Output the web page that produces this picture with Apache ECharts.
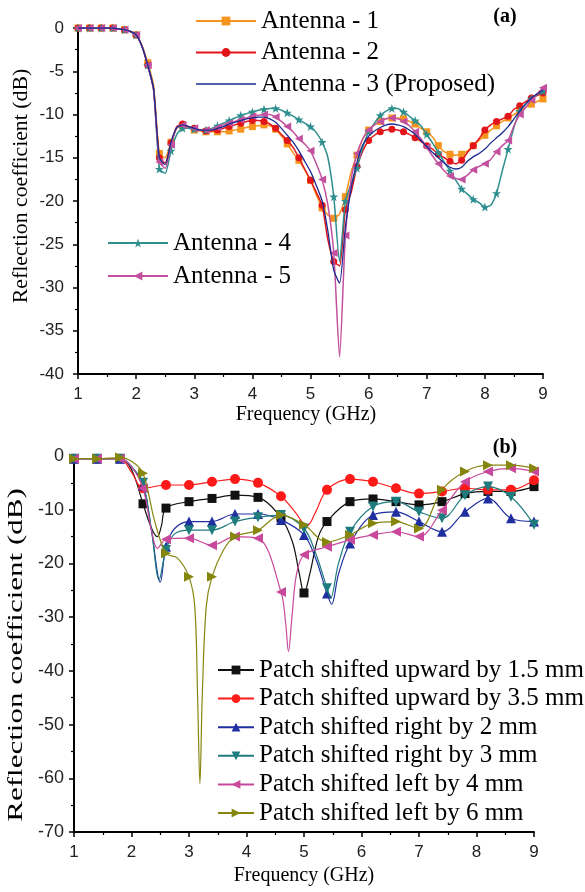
<!DOCTYPE html>
<html>
<head>
<meta charset="utf-8">
<script src="https://cdn.jsdelivr.net/npm/echarts@6/dist/echarts.min.js"></script>
<style>
  html, body { margin: 0; padding: 0; background: #fff; }
  #chart { width: 585px; height: 892px; }
</style>
</head>
<body>
<div id="chart"></div>
<script>
// ---------- Panel (a) data ----------
const freqA = [];
for (let i = 0; i <= 80; i++) freqA.push(+(1 + i * 0.1).toFixed(1));

const antennaNames = ['Antenna - 1', 'Antenna - 2', 'Antenna - 3 (Proposed)', 'Antenna - 4', 'Antenna - 5'];

const antenna1 = [
  0, 0, 0, 0, 0, 0, 0, -0.1, -0.2, -0.4,
  -0.8, -2.0, -4.0, -6.6, -14.5, -15.0, -13.2, -11.6, -11.3, -11.5,
  -11.8, -11.9, -12.0, -12.0, -12.0, -12.0, -11.9, -11.8, -11.7, -11.5,
  -11.4, -11.3, -11.2, -11.3, -11.7, -12.5, -13.4, -14.4, -15.3, -16.4,
  -17.6, -19.3, -20.8, -21.6, -22.0, -21.5, -19.5, -16.6, -14.7, -12.8,
  -11.8, -11.2, -10.8, -10.5, -10.4, -10.4, -10.5, -10.8, -11.1, -11.6,
  -12.0, -12.6, -13.6, -14.3, -14.6, -14.7, -14.6, -14.2, -13.6, -13.0,
  -12.4, -11.8, -11.3, -10.8, -10.4, -10.0, -9.6, -9.2, -8.8, -8.5, -8.2
];
const antenna2 = [
  0, 0, 0, 0, 0, 0, 0, -0.1, -0.2, -0.4,
  -0.8, -2.1, -4.3, -7.0, -15.0, -15.6, -13.3, -11.4, -11.1, -11.4,
  -11.6, -11.8, -11.9, -11.9, -11.8, -11.6, -11.4, -11.2, -11.0, -10.8,
  -10.7, -10.7, -10.8, -11.1, -11.6, -12.3, -13.0, -13.8, -15.0, -16.3,
  -17.6, -19.0, -20.5, -24.5, -27.0, -27.5, -21.0, -19.0, -16.0, -14.2,
  -13.0, -12.4, -12.0, -11.8, -11.7, -11.8, -12.0, -12.3, -12.7, -13.1,
  -13.6, -14.0, -14.6, -15.0, -15.4, -15.7, -15.3, -14.4, -13.6, -12.8,
  -11.8, -11.2, -10.8, -10.5, -10.2, -9.4, -9.0, -8.5, -8.1, -7.8, -7.5
];
const antenna3 = [
  0, 0, 0, 0, 0, 0, 0, -0.1, -0.2, -0.4,
  -0.8, -2.1, -4.3, -7.0, -15.0, -15.8, -13.2, -11.5, -11.2, -11.4,
  -11.6, -11.8, -11.8, -11.8, -11.6, -11.4, -11.1, -10.9, -10.7, -10.5,
  -10.4, -10.3, -10.3, -10.5, -10.9, -11.6, -12.4, -13.2, -14.2, -15.4,
  -16.6, -18.2, -20.0, -23.5, -28.0, -29.5, -23.0, -18.5, -15.5, -13.5,
  -12.5, -11.9, -11.5, -11.2, -11.1, -11.2, -11.4, -11.8, -12.3, -13.0,
  -13.7, -14.4, -15.0, -15.6, -16.1, -16.3, -16.1, -15.4, -14.9, -14.5,
  -14.0, -13.3, -12.7, -12.1, -11.4, -10.5, -9.6, -8.8, -8.1, -7.6, -7.2
];
const antenna4 = [
  0, 0, 0, 0, 0, 0, 0, -0.1, -0.2, -0.4,
  -0.8, -2.1, -4.3, -7.0, -16.3, -16.8, -14.2, -12.3, -11.6, -11.6,
  -11.7, -11.8, -11.8, -11.6, -11.3, -11.0, -10.7, -10.4, -10.1, -9.9,
  -9.7, -9.5, -9.4, -9.3, -9.3, -9.5, -9.8, -10.2, -10.6, -11.0,
  -11.4, -12.1, -13.2, -15.0, -19.5, -27.0, -20.0, -18.0, -16.2, -13.8,
  -12.0, -11.0, -10.1, -9.6, -9.3, -9.3, -9.7, -10.2, -10.7, -11.3,
  -12.3, -13.3, -14.4, -15.5, -16.5, -17.6, -18.6, -19.2, -19.8, -20.2,
  -20.7, -20.5, -19.1, -16.5, -14.0, -11.5, -9.6, -8.8, -8.2, -7.7, -7.3
];
const antenna5 = [
  0, 0, 0, 0, 0, 0, 0, -0.1, -0.2, -0.4,
  -0.8, -2.1, -4.3, -7.2, -15.5, -16.2, -13.5, -11.5, -11.2, -11.4,
  -11.6, -11.8, -11.8, -11.7, -11.5, -11.2, -11.0, -10.8, -10.6, -10.4,
  -10.2, -10.1, -10.0, -10.0, -10.3, -10.8, -11.4, -12.0, -12.8, -13.4,
  -14.2, -15.7, -17.5, -20.5, -26.0, -38.0, -24.0, -17.5, -14.5, -12.8,
  -11.8, -11.2, -10.8, -10.5, -10.4, -10.5, -10.8, -11.3, -12.0, -12.8,
  -13.8, -14.8, -15.7, -16.5, -17.1, -17.4, -17.5, -17.0, -16.4, -16.0,
  -15.7, -15.2, -14.3, -13.6, -13.0, -11.3, -10.0, -9.2, -8.3, -7.6, -6.9
];

// ---------- Panel (b) data ----------
const patchNames = [
  'Patch shifted upward by 1.5 mm',
  'Patch shifted upward by 3.5 mm',
  'Patch shifted right by 2 mm',
  'Patch shifted right by 3 mm',
  'Patch shifted left by 4 mm',
  'Patch shifted left by 6 mm'
];
const up15Freq = [1.0, 1.4, 1.8, 2.0, 2.2, 2.35, 2.45, 2.52, 2.6, 3.0, 3.4, 3.8, 4.2, 4.6, 4.8, 4.92, 5.0, 5.1, 5.25, 5.4, 5.8, 6.2, 6.6, 7.0, 7.4, 7.8, 8.2, 8.6, 9.0];
const up15Val  = [-0.5, -0.5, -0.5, -2.5, -8.9, -13.5, -15.0, -13.0, -9.7, -8.5, -7.9, -7.3, -7.7, -11.5, -16.0, -22.0, -25.5, -22.0, -15.0, -12.2, -8.5, -8.0, -8.5, -9.1, -8.5, -7.0, -6.6, -6.6, -5.7];

const up35Freq = [1.0, 1.4, 1.8, 2.0, 2.2, 2.6, 3.0, 3.4, 3.8, 4.2, 4.6, 4.85, 5.05, 5.2, 5.4, 5.8, 6.2, 6.6, 7.0, 7.4, 7.8, 8.2, 8.6, 9.0];
const up35Val  = [-0.5, -0.5, -0.5, -3.0, -6.0, -5.4, -5.4, -4.8, -4.3, -5.0, -7.5, -10.5, -13.0, -10.5, -6.3, -4.3, -4.8, -6.0, -7.0, -6.6, -6.0, -6.3, -6.3, -4.5];

const right2Freq = [1.0, 1.4, 1.8, 2.0, 2.2, 2.35, 2.5, 2.6, 2.75, 3.0, 3.4, 3.8, 4.2, 4.6, 5.0, 5.2, 5.4, 5.48, 5.6, 5.8, 6.2, 6.6, 7.0, 7.4, 7.8, 8.2, 8.6, 9.0];
const right2Val  = [-0.5, -0.5, -0.5, -2.0, -5.5, -14.0, -23.5, -16.9, -13.5, -12.2, -12.2, -10.8, -10.8, -11.9, -14.7, -19.0, -25.6, -27.6, -22.0, -16.3, -11.0, -10.4, -12.2, -14.1, -10.4, -7.9, -11.6, -12.2];

const right3Freq = [1.0, 1.4, 1.8, 2.0, 2.2, 2.35, 2.48, 2.6, 2.75, 3.0, 3.4, 3.8, 4.2, 4.6, 5.0, 5.2, 5.4, 5.46, 5.6, 5.8, 6.2, 6.6, 7.0, 7.4, 7.8, 8.2, 8.6, 9.0];
const right3Val  = [-0.5, -0.5, -0.5, -2.0, -5.0, -14.0, -23.0, -17.5, -14.5, -13.8, -13.8, -12.2, -11.4, -11.0, -13.5, -18.0, -24.6, -26.5, -20.0, -14.1, -9.4, -8.5, -10.4, -11.6, -7.3, -5.7, -7.6, -12.8];

const left4Freq = [1.0, 1.4, 1.8, 2.0, 2.2, 2.35, 2.45, 2.6, 3.0, 3.4, 3.8, 4.2, 4.6, 4.68, 4.73, 4.79, 4.87, 5.0, 5.4, 5.8, 6.2, 6.6, 7.0, 7.4, 7.8, 8.2, 8.6, 9.0];
const left4Val  = [-0.5, -0.5, -0.5, -2.0, -6.0, -14.0, -17.2, -15.5, -15.3, -16.6, -15.0, -15.3, -25.3, -31.0, -36.4, -30.0, -22.0, -18.4, -16.9, -15.6, -14.7, -14.1, -15.0, -10.1, -4.8, -2.9, -2.3, -2.9];

const left6Freq = [1.0, 1.4, 1.8, 2.0, 2.2, 2.4, 2.6, 2.8, 3.0, 3.1, 3.15, 3.19, 3.23, 3.3, 3.4, 3.6, 3.8, 4.2, 4.6, 5.0, 5.4, 5.8, 6.2, 6.6, 7.0, 7.4, 7.8, 8.2, 8.6, 9.0];
const left6Val  = [-0.5, -0.5, -0.3, -1.0, -3.2, -12.0, -18.1, -19.0, -22.5, -28.0, -45.0, -61.0, -45.0, -28.0, -22.5, -17.5, -15.0, -13.8, -11.0, -12.8, -16.0, -14.7, -12.5, -12.2, -13.5, -6.3, -2.9, -1.7, -1.7, -2.3];

// ---------- styling ----------
const SERIF = "'Liberation Serif', 'Times New Roman', serif";
const SANS = "'Liberation Sans', Arial, sans-serif";
const STAR = 'path://M5,0L6.2,3.6L10,3.6L7,5.9L8.1,9.5L5,7.3L1.9,9.5L3,5.9L0,3.6L3.8,3.6Z';
const TRI_LEFT = 'path://M0,5L10,0L10,10Z';
const TRI_RIGHT = 'path://M10,5L0,0L0,10Z';
const TRI_DOWN = 'path://M0,0L10,0L5,10Z';
const TRI_UP = 'path://M5,0L10,10L0,10Z';
const PLAIN_LINE = 'path://M0,0L60,0L60,1.4L0,1.4Z';

function topSeries(name, vals, color, symbol, size, width, z) {
  return {
    name: name, type: 'line', xAxisIndex: 0, yAxisIndex: 0, z: z,
    symbol: symbol, symbolSize: size, showAllSymbol: true,
    smooth: 0.2,
    lineStyle: { color: color, width: width },
    itemStyle: { color: color },
    emphasis: { disabled: true },
    data: vals.map(function (v, i) {
      const d = { value: [freqA[i], v] };
      if (i % 2 === 1) d.symbol = 'none';
      return d;
    })
  };
}
function bottomSeries(name, fs, vs, color, symbol, size, z) {
  return {
    name: name, type: 'line', xAxisIndex: 1, yAxisIndex: 1, z: z,
    symbol: symbol, symbolSize: size, showAllSymbol: true,
    smooth: 0.35,
    lineStyle: { color: color, width: 1.2 },
    itemStyle: { color: color },
    emphasis: { disabled: true },
    data: fs.map(function (f, i) {
      const d = { value: [f, vs[i]] };
      const k = (f - 1) / 0.4;
      if (Math.abs(k - Math.round(k)) > 1e-6) d.symbol = 'none';
      return d;
    })
  };
}

const axisCommon = {
  axisLine: { show: true, onZero: false, lineStyle: { color: '#000', width: 2 } },
  axisTick: { show: true, inside: false, length: 5, lineStyle: { color: '#000', width: 1.5 } },
  minorTick: { show: true, splitNumber: 2, length: 3, lineStyle: { color: '#000', width: 1.2 } },
  splitLine: { show: false },
  minorSplitLine: { show: false }
};

const option = {
  animation: false,
  backgroundColor: '#fff',
  grid: [
    { left: 78, right: 42, top: 28, height: 346 },
    { left: 74, right: 51, top: 456, height: 376 }
  ],
  xAxis: [
    Object.assign({}, axisCommon, {
      type: 'value', gridIndex: 0, min: 1, max: 9, interval: 1,
      name: 'Frequency (GHz)', nameLocation: 'middle', nameGap: 31,
      nameTextStyle: { fontFamily: SERIF, fontSize: 20, color: '#000', padding: [0, 9, 0, 0] },
      axisLabel: { fontFamily: SANS, fontSize: 17, color: '#222', margin: 12 }
    }),
    Object.assign({}, axisCommon, {
      type: 'value', gridIndex: 1, min: 1, max: 9, interval: 1,
      name: 'Frequency (GHz)', nameLocation: 'middle', nameGap: 34,
      nameTextStyle: { fontFamily: SERIF, fontSize: 20, color: '#000' },
      axisLabel: { fontFamily: SANS, fontSize: 17, color: '#222', margin: 12 }
    })
  ],
  yAxis: [
    Object.assign({}, axisCommon, {
      type: 'value', gridIndex: 0, min: -40, max: 0, interval: 5,
      axisLabel: { fontFamily: SANS, fontSize: 17, color: '#222', margin: 14 }
    }),
    Object.assign({}, axisCommon, {
      type: 'value', gridIndex: 1, min: -70, max: 0, interval: 10,
      axisLabel: { fontFamily: SANS, fontSize: 18, color: '#222', margin: 10 }
    })
  ],
  legend: [
    {
      data: [
        antennaNames[0],
        antennaNames[1],
        { name: antennaNames[2], icon: PLAIN_LINE, itemStyle: { color: '#1B2A8F' } }
      ],
      orient: 'vertical', left: 190, top: 3, itemWidth: 60, itemHeight: 11, itemGap: 5.5,
      textStyle: { fontFamily: SERIF, fontSize: 25, color: '#000', lineHeight: 26 },
      selectedMode: false
    },
    {
      data: [antennaNames[3], antennaNames[4]],
      orient: 'vertical', left: 102, top: 225, itemWidth: 60, itemHeight: 11, itemGap: 7,
      textStyle: { fontFamily: SERIF, fontSize: 25, color: '#000', lineHeight: 26 },
      selectedMode: false
    },
    {
      data: patchNames,
      orient: 'vertical', left: 212, top: 652, itemWidth: 36, itemHeight: 11, itemGap: 2.6,
      textStyle: { fontFamily: SERIF, fontSize: 25, color: '#000', lineHeight: 26 },
      selectedMode: false
    }
  ],
  graphic: [
    { type: 'text', x: 22, y: 186, rotation: Math.PI / 2, scaleX: 1.09, z: 10,
      style: { text: 'Reflection coefficient (dB)', font: '20px ' + SERIF, fill: '#000', textAlign: 'center', textVerticalAlign: 'middle' } },
    { type: 'text', x: 17, y: 655, rotation: Math.PI / 2, scaleX: 1.55, z: 10,
      style: { text: 'Reflection coefficient (dB)', font: '20px ' + SERIF, fill: '#000', textAlign: 'center', textVerticalAlign: 'middle' } },
    { type: 'text', x: 505, y: 17, z: 10,
      style: { text: '(a)', font: 'bold 20px ' + SERIF, fill: '#000', textAlign: 'center', textVerticalAlign: 'middle' } },
    { type: 'text', x: 505, y: 448, z: 10,
      style: { text: '(b)', font: 'bold 20px ' + SERIF, fill: '#000', textAlign: 'center', textVerticalAlign: 'middle' } }
  ],
  series: [
    topSeries(antennaNames[0], antenna1, '#F7941D', 'rect', 7, 1.5, 2),
    topSeries(antennaNames[1], antenna2, '#E2151B', 'circle', 7, 1.5, 3),
    topSeries(antennaNames[3], antenna4, '#2F8F8F', STAR, 9, 1.5, 4),
    topSeries(antennaNames[4], antenna5, '#C2509E', TRI_LEFT, 8, 1.5, 5),
    topSeries(antennaNames[2], antenna3, '#1B2A8F', 'none', 6, 1.3, 6),
    bottomSeries(patchNames[0], up15Freq, up15Val, '#111111', 'rect', 9, 2),
    bottomSeries(patchNames[1], up35Freq, up35Val, '#FF1A1A', 'circle', 10, 3),
    bottomSeries(patchNames[2], right2Freq, right2Val, '#1F2FA0', TRI_UP, 10, 4),
    bottomSeries(patchNames[3], right3Freq, right3Val, '#1E7B7E', TRI_DOWN, 10, 5),
    bottomSeries(patchNames[4], left4Freq, left4Val, '#C8489C', TRI_LEFT, 10, 6),
    bottomSeries(patchNames[5], left6Freq, left6Val, '#86860F', TRI_RIGHT, 10, 7)
  ]
};

const chart = echarts.init(document.getElementById('chart'), null, { renderer: 'canvas' });
chart.setOption(option);
</script>
</body>
</html>
